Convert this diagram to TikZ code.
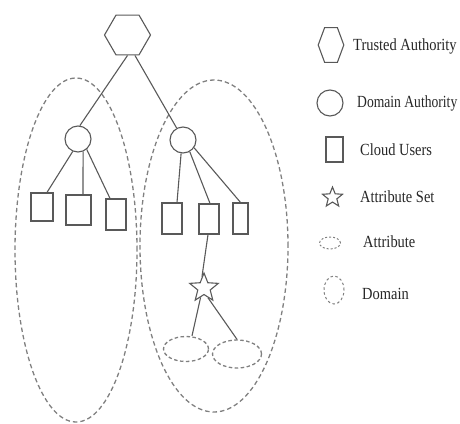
\documentclass[tikz,border=0pt]{standalone}
\usepackage{fontspec}
\setmainfont{Liberation Serif}
\usetikzlibrary{shapes.geometric}
\begin{document}
\begin{tikzpicture}[x=1pt,y=-1pt,
  conn/.style={draw=black!65, line width=1.1pt},
  dom/.style={ellipse, draw=black!50, dash pattern=on 4.5pt off 3pt, line width=1.3pt, inner sep=0pt},
  attr/.style={ellipse, draw=black!50, dash pattern=on 3.5pt off 2.5pt, line width=1.3pt, inner sep=0pt},
  usr/.style={rectangle, draw=black!65, line width=1.2pt, inner sep=0pt},
  da/.style={circle, draw=black!65, line width=1.1pt, minimum size=26pt, inner sep=0pt},
  hexa/.style={regular polygon, regular polygon sides=6, draw=black!65, line width=1.1pt, inner sep=0pt},
  aset/.style={star, star points=5, star point ratio=2.3, draw=black!65, line width=1.1pt, inner sep=0pt},
  lbl/.style={anchor=west, inner sep=0pt, font=\fontsize{17}{20}\selectfont, text=black!85}
]
\useasboundingbox (0,0) rectangle (460,423);

% domains
\node[dom, minimum width=122pt, minimum height=344pt] (d1) at (76,250) {};
\node[dom, minimum width=148pt, minimum height=332pt] (d2) at (214,246) {};

% trusted authority
\node[hexa, minimum size=46pt] (ta) at (127.5,35) {};

% domain authorities
\node[da] (a1) at (78,139) {};
\node[da] (a2) at (183,140) {};

% cloud users
\node[usr, minimum width=22pt, minimum height=28pt] (u1) at (42,207) {};
\node[usr, minimum width=25pt, minimum height=30pt] (u2) at (78.5,210) {};
\node[usr, minimum width=20pt, minimum height=31pt] (u3) at (116,214.5) {};
\node[usr, minimum width=20pt, minimum height=31pt] (u4) at (172,218.5) {};
\node[usr, minimum width=20pt, minimum height=30pt] (u5) at (209,219) {};
\node[usr, minimum width=15pt, minimum height=31pt] (u6) at (240.5,218.5) {};

% attribute set
\node[aset, minimum size=30pt] (as) at (204,288) {};

% attributes
\node[attr, minimum width=45pt, minimum height=25pt] (at1) at (186,349) {};
\node[attr, minimum width=49pt, minimum height=28pt] (at2) at (237,354) {};

% connectors
\draw[conn] (ta.270) -- (a1.82);
\draw[conn] (ta.290) -- (a2.118);
\draw[conn] (a1.247) -- ([xshift=5pt]u1.north);
\draw[conn] (a1.292) -- ([xshift=4.5pt]u2.north);
\draw[conn] (a1.310) -- ([xshift=-6pt]u3.north);
\draw[conn] (a2.262) -- ([xshift=5pt]u4.north);
\draw[conn] (a2.300) -- ([xshift=1pt]u5.north);
\draw[conn] (a2.325) -- (u6.north);
\draw[conn] ([xshift=-1pt]u5.south) -- (as.100);
\draw[conn] (as.250) -- ([xshift=6pt]at1.north);
\draw[conn] (as.292) -- (at2.north);

% legend
\begin{scope}[shift={(331,45)}, xscale=0.64]
  \node[hexa, minimum size=40pt, transform shape] (lta) at (0,0) {};
\end{scope}
\node[da] (lda) at (330,103) {};
\node[usr, minimum width=17pt, minimum height=25pt] (lcu) at (334.5,149.5) {};
\node[aset, minimum size=21pt] (las) at (332.5,197.5) {};
\node[attr, minimum width=21pt, minimum height=12pt, dash pattern=on 2pt off 2pt, line width=1pt] (lat) at (330,243) {};
\node[attr, minimum width=20pt, minimum height=28pt, dash pattern=on 2.5pt off 2.5pt, line width=1pt] (ldo) at (334,290) {};

\node[lbl] (tlta) at (353,46) {\scalebox{0.85}[1]{Trusted Authority}};
\node[lbl] (tlda) at (357,103) {\scalebox{0.8}[1]{Domain Authority}};
\node[lbl] (tlcu) at (360,150) {\scalebox{0.85}[1]{Cloud Users}};
\node[lbl] (tlas) at (360,197) {\scalebox{0.85}[1]{Attribute Set}};
\node[lbl] (tlat) at (363,242) {\scalebox{0.85}[1]{Attribute}};
\node[lbl] (tldo) at (362,294) {\scalebox{0.85}[1]{Domain}};
\end{tikzpicture}
\end{document}
